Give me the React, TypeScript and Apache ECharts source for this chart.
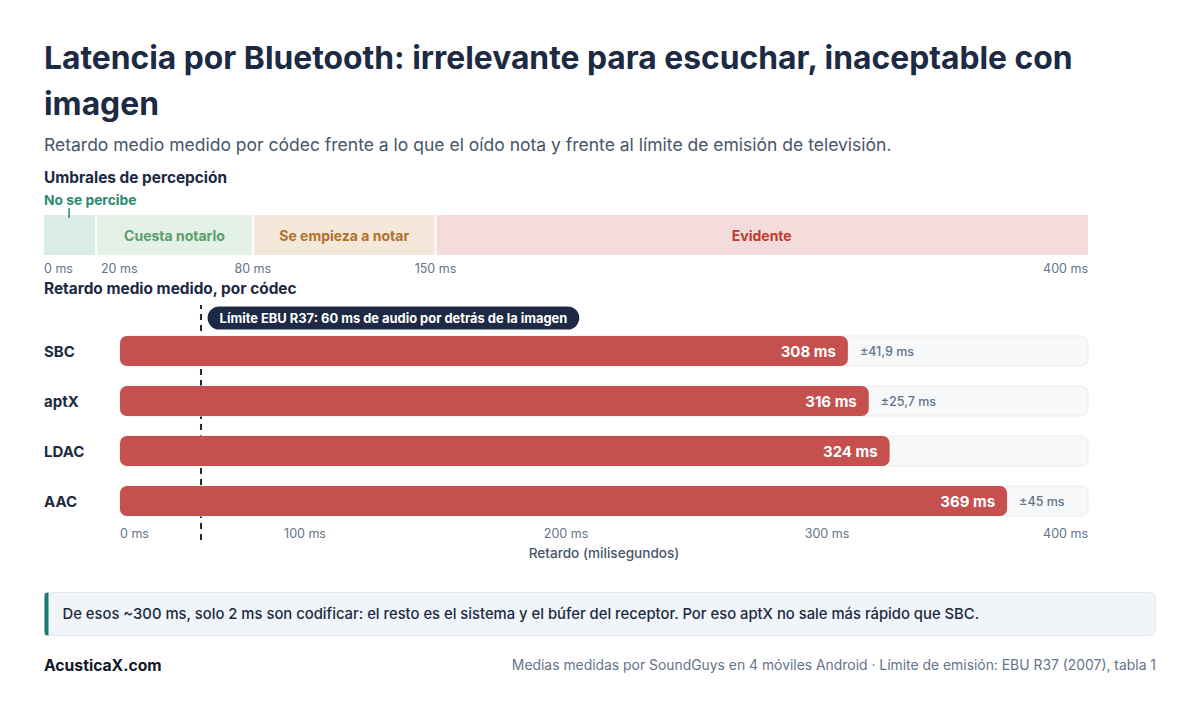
import { useEffect, useRef } from 'react'
import * as echarts from 'echarts'

// ---------- datos ----------
const CODECS = ['SBC', 'aptX', 'LDAC', 'AAC']
const DELAY_MS = [308, 316, 324, 369]
const SPREAD_MS: (number | null)[] = [41.9, 25.7, null, 45]

const ZONE_EDGES = [0, 20, 80, 150, 400]
const ZONE_NAMES = ['No se percibe', 'Cuesta notarlo', 'Se empieza a notar', 'Evidente']
const ZONE_TICKS = [0, 20, 80, 150, 400]

const EBU_LIMIT_MS = 60
const SCALE_MAX = 400
const DELAY_TICKS = [0, 100, 200, 300, 400]

// ---------- estilo ----------
const FONT = 'Inter, "Noto Sans", sans-serif'
const NAVY = '#1c2a43'
const MUTED = '#64748b'
const BAR_COLOR = '#c5504d'
const TRACK = '#f6f8fa'
const TRACK_BORDER = '#e8ecf1'
const ZONE_FILL = ['#d9ece7', '#e3f1e7', '#f3e8d9', '#f4dcdc']
const ZONE_TEXT = ['#2a8c70', '#5a9e68', '#b2702a', '#c0392b']
const LABEL_GUTTER = 76

const fmtMs = (v: number) => `${String(v).replace('.', ',')} ms`

export default function App() {
  const ref = useRef<HTMLDivElement>(null)

  useEffect(() => {
    if (!ref.current) return
    const chart = echarts.init(ref.current, undefined, { renderer: 'svg' })

    const zoneData = ZONE_NAMES.map((_, i) => [ZONE_EDGES[i], ZONE_EDGES[i + 1], i])
    const barData = DELAY_MS.map((v, i) => [v, i])

    const option: echarts.EChartsOption = {
      animation: false,
      backgroundColor: '#ffffff',
      textStyle: { fontFamily: FONT },
      title: [
        {
          text: 'Latencia por Bluetooth: irrelevante para escuchar, inaceptable con\nimagen',
          left: 44,
          top: 34,
          padding: 0,
          textStyle: { fontSize: 31.8, fontWeight: 700, color: NAVY, lineHeight: 46, fontFamily: FONT },
        },
        {
          text: 'Retardo medio medido por códec frente a lo que el oído nota y frente al límite de emisión de televisión.',
          left: 44,
          top: 135,
          padding: 0,
          textStyle: { fontSize: 17.5, fontWeight: 400, color: '#475569', fontFamily: FONT },
        },
        {
          text: 'Umbrales de percepción',
          left: 44,
          top: 170,
          padding: 0,
          textStyle: { fontSize: 15.4, fontWeight: 700, color: NAVY, fontFamily: FONT },
        },
        {
          text: 'Retardo medio medido, por códec',
          left: 44,
          top: 281,
          padding: 0,
          textStyle: { fontSize: 15.4, fontWeight: 700, color: NAVY, fontFamily: FONT },
        },
      ],
      grid: [
        { left: 44, width: 1044, top: 326, height: 200 },
        { left: 44, width: 1044, top: 215, height: 40 },
        { left: 44, width: 1044, top: 305, height: 235 },
      ],
      xAxis: [
        {
          gridIndex: 0,
          type: 'value',
          min: 0,
          max: SCALE_MAX,
          interval: 100,
          axisLine: { show: false },
          axisTick: { show: false },
          splitLine: { show: false },
          axisLabel: {
            customValues: DELAY_TICKS,
            margin: 1,
            fontSize: 12.5,
            color: MUTED,
            fontFamily: FONT,
            alignMinLabel: 'left',
            alignMaxLabel: 'right',
            formatter: (v: number) => (v === 0 ? '{z|0 ms}' : `${v} ms`),
            rich: { z: { padding: [0, 0, 0, LABEL_GUTTER], fontSize: 12.5, color: MUTED, fontFamily: FONT } },
          } as any,
          name: 'Retardo (milisegundos)',
          nameLocation: 'middle',
          nameGap: 20,
          nameTextStyle: {
            fontSize: 13.6,
            fontWeight: 500,
            color: '#475569',
            fontFamily: FONT,
            padding: [0, 0, 0, LABEL_GUTTER],
          },
        },
        {
          gridIndex: 1,
          type: 'value',
          min: 0,
          max: SCALE_MAX,
          axisLine: { show: false },
          axisTick: { show: false },
          splitLine: { show: false },
          axisLabel: {
            customValues: ZONE_TICKS,
            margin: 7,
            fontSize: 12.5,
            color: MUTED,
            fontFamily: FONT,
            alignMinLabel: 'left',
            alignMaxLabel: 'right',
            formatter: (v: number) => (v === ZONE_TICKS[1] ? `{s|${v} ms}` : `${v} ms`),
            rich: { s: { padding: [0, 0, 0, 46], fontSize: 12.5, color: MUTED, fontFamily: FONT } },
          } as any,
        },
        {
          gridIndex: 2,
          type: 'value',
          min: 0,
          max: SCALE_MAX,
          show: false,
        },
      ],
      yAxis: [
        {
          gridIndex: 0,
          type: 'category',
          data: CODECS,
          inverse: true,
          axisLine: { show: false },
          axisTick: { show: false },
          axisLabel: {
            inside: true,
            margin: 0,
            fontSize: 15,
            fontWeight: 700,
            color: NAVY,
            fontFamily: FONT,
          },
        },
        { gridIndex: 1, type: 'category', data: ['zonas'], show: false },
        { gridIndex: 2, type: 'value', min: 0, max: 1, show: false },
      ],
      series: [
        // franjas de percepción
        {
          type: 'custom',
          xAxisIndex: 1,
          yAxisIndex: 1,
          encode: { x: [0, 1], y: 2 },
          data: zoneData,
          renderItem: (params: any, api: any) => {
            const i = params.dataIndex
            const [x0, yc] = api.coord([api.value(0), 0])
            const [x1] = api.coord([api.value(1), 0])
            const h = api.size([0, 1])[1]
            const gap = i === 0 ? 0 : 1
            const rightGap = i === ZONE_NAMES.length - 1 ? 0 : 1
            const rect = {
              type: 'rect',
              shape: { x: x0 + gap, y: yc - h / 2, width: x1 - x0 - gap - rightGap, height: h },
              style: { fill: ZONE_FILL[i] },
            }
            if (i === 0) {
              const cx = (x0 + x1) / 2
              return {
                type: 'group',
                children: [
                  rect,
                  {
                    type: 'text',
                    x: x0,
                    y: yc - h / 2 - 15,
                    style: {
                      text: ZONE_NAMES[i],
                      fill: ZONE_TEXT[i],
                      font: `700 13.8px ${FONT}`,
                      align: 'left',
                      verticalAlign: 'middle',
                    },
                  },
                  {
                    type: 'line',
                    shape: { x1: cx - 1, y1: yc - h / 2 - 7, x2: cx - 1, y2: yc - h / 2 + 3 },
                    style: { stroke: ZONE_TEXT[i], lineWidth: 1.5 },
                  },
                ],
              }
            }
            return {
              type: 'group',
              children: [
                rect,
                {
                  type: 'text',
                  x: (x0 + x1) / 2,
                  y: yc,
                  style: {
                    text: ZONE_NAMES[i],
                    fill: ZONE_TEXT[i],
                    font: `700 14px ${FONT}`,
                    align: 'center',
                    verticalAlign: 'middle',
                  },
                },
              ],
            }
          },
        } as any,
        // límite EBU R37
        {
          type: 'scatter',
          xAxisIndex: 2,
          yAxisIndex: 2,
          z: 1,
          symbolSize: 0,
          itemStyle: { opacity: 1 },
          data: [[EBU_LIMIT_MS, 1]],
          silent: true,
          label: {
            show: true,
            position: 'right',
            distance: 7,
            offset: [0, 13],
            opacity: 1,
            formatter: `Límite EBU R37: ${EBU_LIMIT_MS} ms de audio por detrás de la imagen`,
            backgroundColor: '#1e2a45',
            borderRadius: 12,
            padding: [5, 12, 5, 12],
            color: '#ffffff',
            fontSize: 12.9,
            fontWeight: 700,
            fontFamily: FONT,
          },
          markLine: {
            silent: true,
            symbol: 'none',
            label: { show: false },
            lineStyle: { color: NAVY, type: [6, 5], width: 2, opacity: 1 },
            data: [{ xAxis: EBU_LIMIT_MS }],
          },
        },
        // barras por códec
        {
          type: 'custom',
          xAxisIndex: 0,
          yAxisIndex: 0,
          z: 5,
          encode: { x: 0, y: 1 },
          data: barData,
          renderItem: (params: any, api: any) => {
            const i = params.dataIndex
            const v = api.value(0) as number
            const [x0, yc] = api.coord([0, i])
            const [xv] = api.coord([v, i])
            const [xMax] = api.coord([SCALE_MAX, i])
            const h = 30
            const left = x0 + LABEL_GUTTER
            const spread = SPREAD_MS[i]
            const children: any[] = [
              {
                type: 'rect',
                shape: { x: left, y: yc - h / 2, width: xMax - left, height: h, r: 7 },
                style: { fill: TRACK, stroke: TRACK_BORDER, lineWidth: 1 },
              },
              {
                type: 'rect',
                shape: { x: left, y: yc - h / 2, width: xv - left, height: h, r: 7 },
                style: { fill: BAR_COLOR },
              },
              {
                type: 'text',
                x: xv - 12,
                y: yc,
                style: {
                  text: `${v} ms`,
                  fill: '#ffffff',
                  font: `700 15px ${FONT}`,
                  align: 'right',
                  verticalAlign: 'middle',
                },
              },
            ]
            if (spread != null) {
              children.push({
                type: 'text',
                x: xv + 12,
                y: yc,
                style: {
                  text: `±${fmtMs(spread)}`,
                  fill: MUTED,
                  font: `500 12.5px ${FONT}`,
                  align: 'left',
                  verticalAlign: 'middle',
                },
              })
            }
            return { type: 'group', children }
          },
        } as any,
      ],
      graphic: [
        {
          type: 'group',
          left: 44,
          top: 592,
          children: [
            {
              type: 'rect',
              shape: { x: 0, y: 0, width: 1111, height: 43, r: 6 },
              style: { fill: '#f1f5f9', stroke: '#e2e8f0', lineWidth: 1 },
            },
            {
              type: 'rect',
              shape: { x: 0, y: 0, width: 4, height: 43, r: [3, 0, 0, 3] },
              style: { fill: '#1a7a72' },
            },
            {
              type: 'text',
              x: 18,
              y: 21.5,
              style: {
                text: 'De esos ~300 ms, solo 2 ms son codificar: el resto es el sistema y el búfer del receptor. Por eso aptX no sale más rápido que SBC.',
                fill: NAVY,
                font: `500 14.8px ${FONT}`,
                verticalAlign: 'middle',
              },
            },
          ],
        },
        {
          type: 'text',
          left: 44,
          top: 657,
          style: { text: 'AcusticaX.com', fill: '#111827', font: `700 15.7px ${FONT}` },
        },
        {
          type: 'text',
          right: 44,
          top: 658,
          style: {
            text: 'Medias medidas por SoundGuys en 4 móviles Android · Límite de emisión: EBU R37 (2007), tabla 1',
            fill: MUTED,
            font: `400 13.9px ${FONT}`,
          },
        },
      ],
    }

    chart.setOption(option)
    return () => chart.dispose()
  }, [])

  return (
    <div
      ref={ref}
      style={{ position: 'absolute', left: 0, top: 0, width: 1200, height: 703, background: '#fff' }}
    />
  )
}
